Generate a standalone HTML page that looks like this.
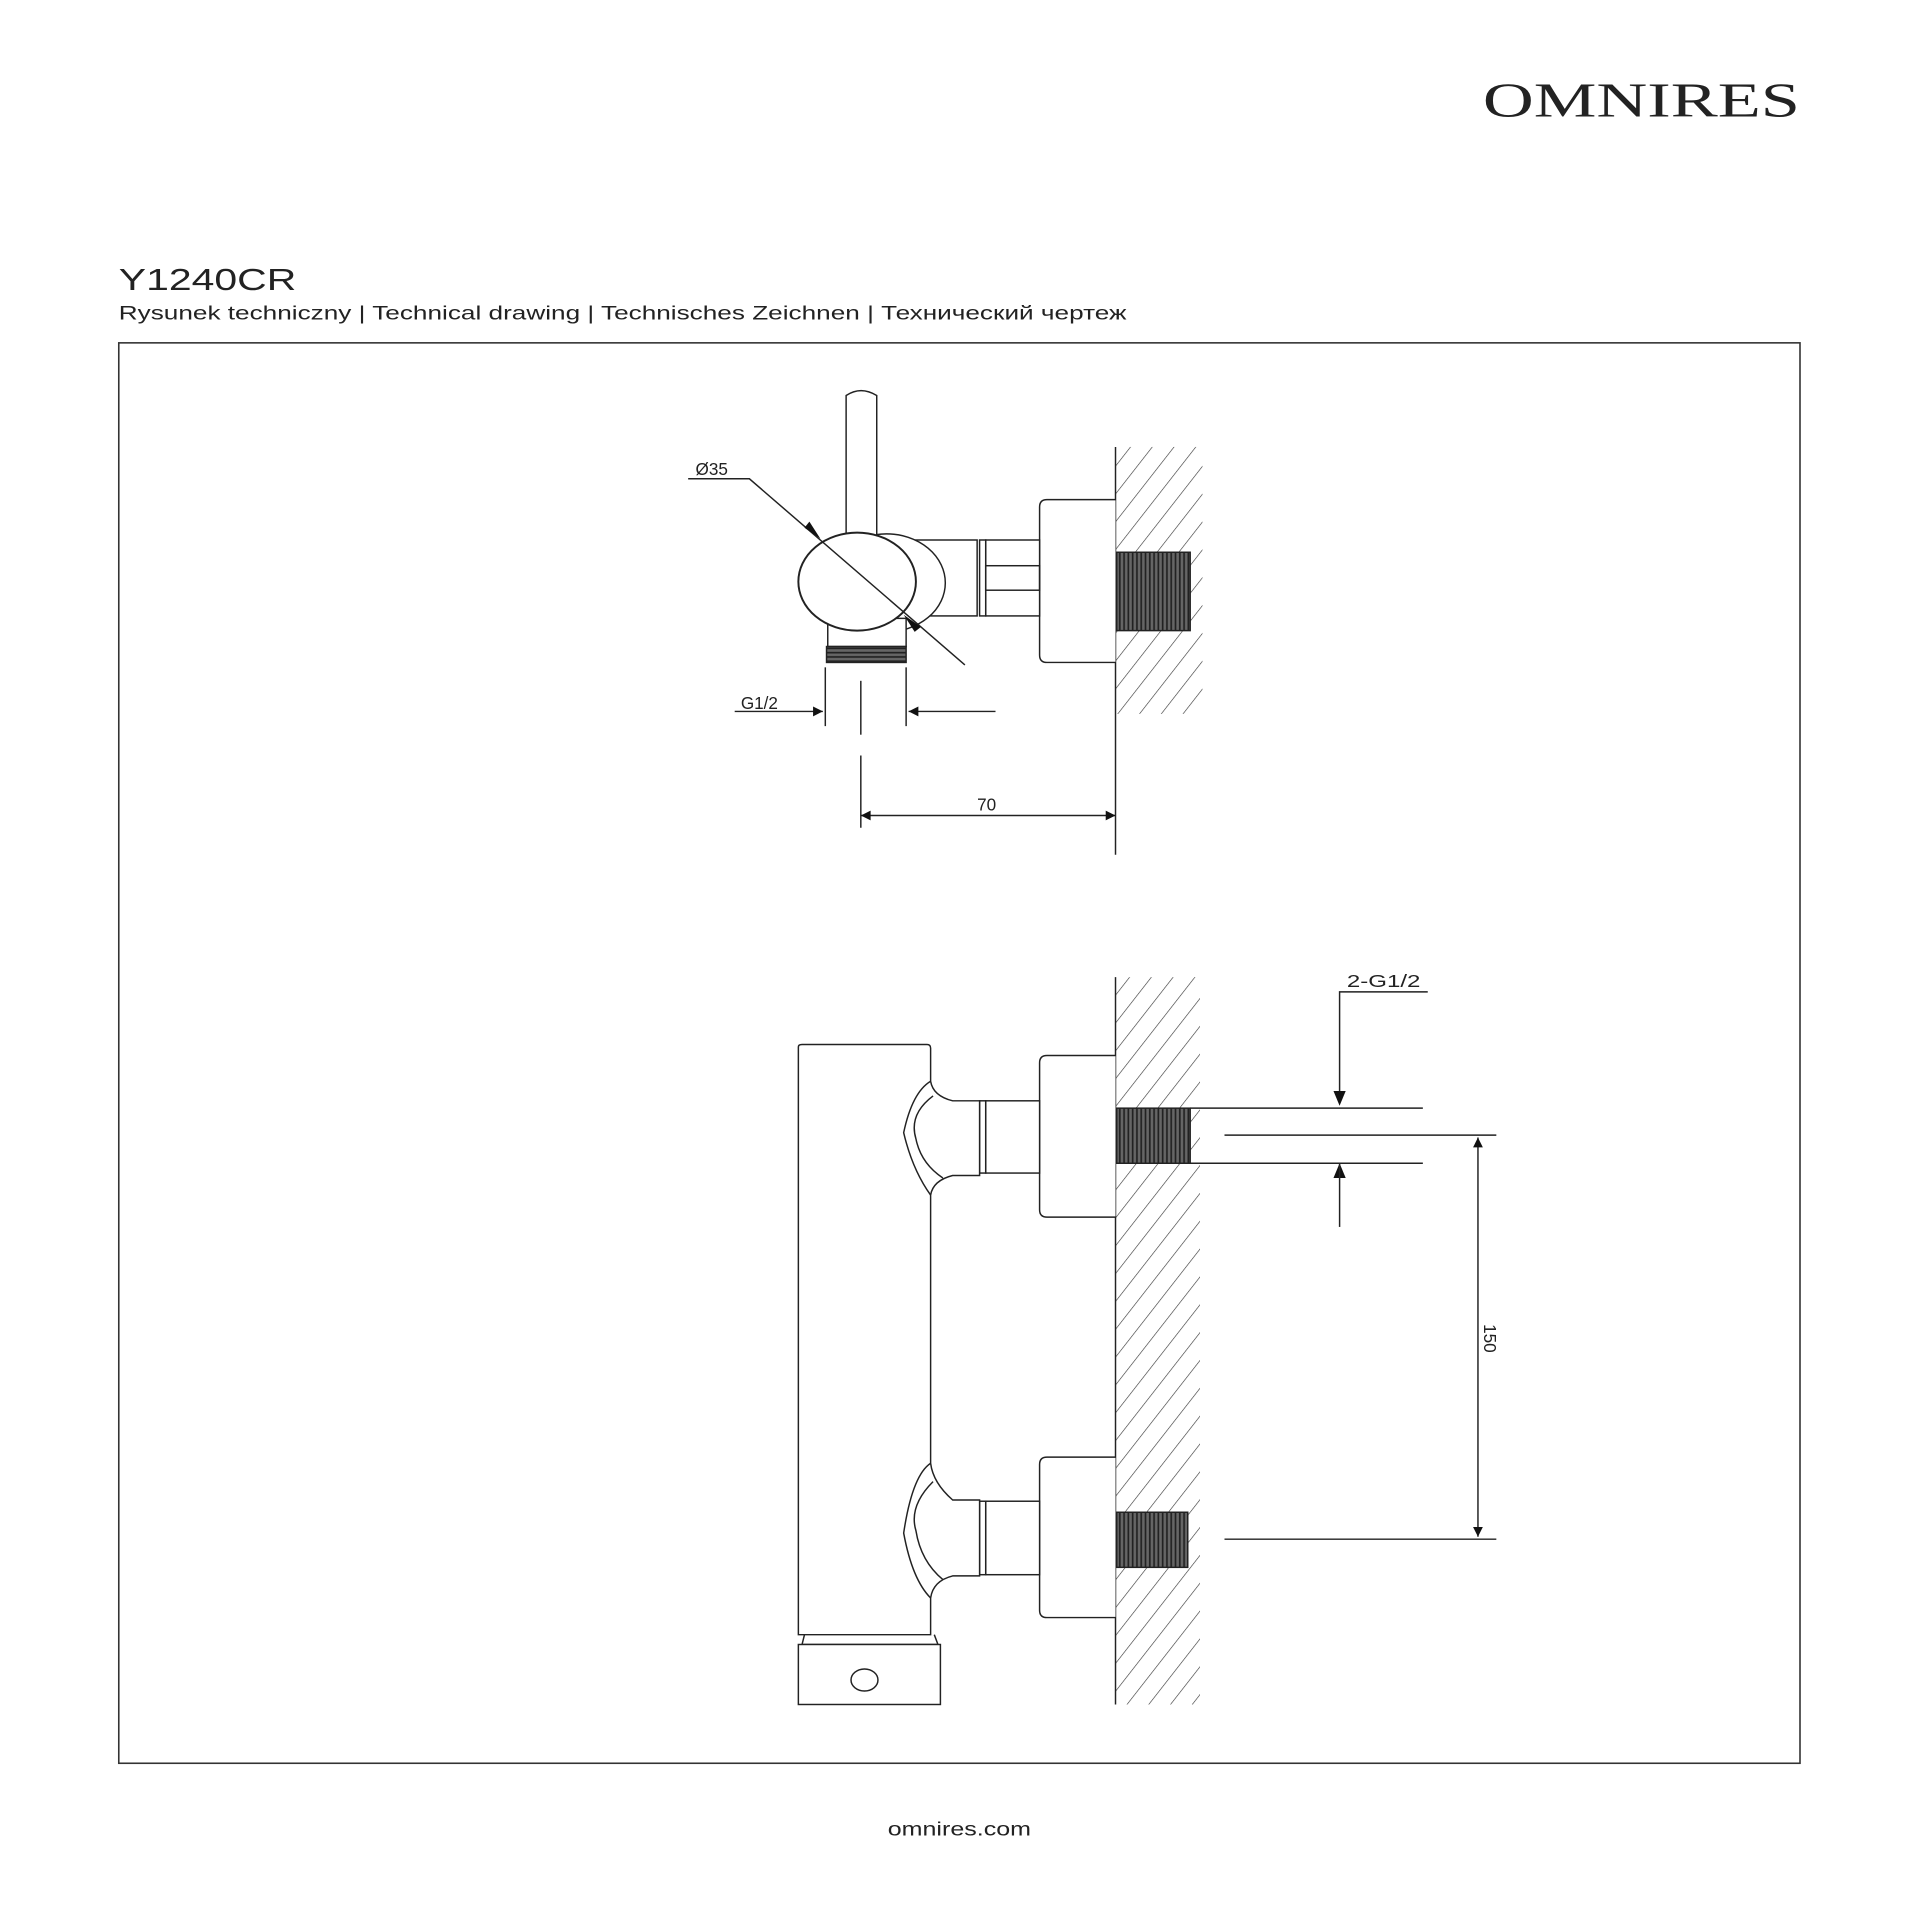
<!DOCTYPE html>
<html><head><meta charset="utf-8"><style>
html,body{margin:0;padding:0;background:#fff;}
svg{display:block;}
</style></head><body>
<svg width="1920" height="1920" viewBox="0 0 1568 1568" xmlns="http://www.w3.org/2000/svg">
<defs>
<pattern id="hatch" patternUnits="userSpaceOnUse" width="14" height="14" patternTransform="rotate(38)">
<line x1="0" y1="0" x2="0" y2="14" stroke="#333" stroke-width="1"/>
</pattern>
<pattern id="thr" patternUnits="userSpaceOnUse" width="3.5" height="10">
<rect width="3.5" height="10" fill="#666"/><line x1="1" y1="0" x2="1" y2="10" stroke="#222" stroke-width="1.4"/>
</pattern>
<pattern id="thrh" patternUnits="userSpaceOnUse" width="10" height="3.5">
<rect width="10" height="3.5" fill="#666"/><line x1="0" y1="1" x2="10" y2="1" stroke="#222" stroke-width="1.4"/>
</pattern>
<marker id="ar" viewBox="0 0 10 10" refX="10" refY="5" markerWidth="14" markerHeight="8" markerUnits="userSpaceOnUse" orient="auto-start-reverse">
<path d="M0,0 L10,5 L0,10 z" fill="#111"/>
</marker>
</defs>
<rect width="1568" height="1568" fill="#fff"/>
<text x="1211" y="95" font-family="Liberation Serif, serif" font-size="40" textLength="259" lengthAdjust="spacingAndGlyphs" fill="#222">OMNIRES</text>
<text x="97" y="237" font-family="Liberation Sans, sans-serif" font-size="25" textLength="145" lengthAdjust="spacingAndGlyphs" fill="#222">Y1240CR</text>
<text x="97" y="261" font-family="Liberation Sans, sans-serif" font-size="15.5" textLength="823" lengthAdjust="spacingAndGlyphs" fill="#222">Rysunek techniczny | Technical drawing | Technisches Zeichnen | Технический чертеж</text>
<rect x="97" y="280" width="1373" height="1160" fill="none" stroke="#333" stroke-width="1.3"/>
<text x="725" y="1499" font-family="Liberation Sans, sans-serif" font-size="15.5" textLength="117" lengthAdjust="spacingAndGlyphs" fill="#222">omnires.com</text>

<g fill="none" stroke="#222" stroke-width="1.2">
<rect x="911" y="365" width="71" height="218" fill="url(#hatch)" stroke="none"/>
<line x1="911" y1="365" x2="911" y2="698"/>
<rect x="912" y="451" width="60" height="64" fill="url(#thr)" stroke="#222"/>
<path d="M911,408 H855 Q849,408 849,414 V535 Q849,541 855,541 H911" fill="#fff"/>
<rect x="805" y="441" width="44" height="62" fill="#fff"/>
<rect x="805" y="462" width="44" height="20"/>
<rect x="800" y="441" width="5" height="62"/>
<rect x="740" y="441" width="58" height="62" fill="#fff"/>
<ellipse cx="724" cy="476" rx="48" ry="40" fill="#fff"/>
<rect x="676" y="505" width="64" height="23" fill="#fff"/>
<rect x="675" y="528" width="65" height="13" fill="url(#thrh)"/>
<path d="M691,440 V323 Q703,315 716,323 V440" fill="#fff"/>
<ellipse cx="700" cy="475" rx="48" ry="40" fill="#fff" stroke-width="1.6"/>
<polyline points="562,391 612,391 788,543"/>
<path d="M657,431 L670,440 L661,426 z" fill="#111" stroke="none"/>
<path d="M752,512 L738,502 L747,516 z" fill="#111" stroke="none"/>
<line x1="674" y1="545" x2="674" y2="593"/>
<line x1="740" y1="545" x2="740" y2="593"/>
<line x1="600" y1="581" x2="672" y2="581" marker-end="url(#ar)"/>
<line x1="813" y1="581" x2="742" y2="581" marker-end="url(#ar)"/>
<line x1="703" y1="556" x2="703" y2="600"/>
<line x1="703" y1="617" x2="703" y2="676"/>
<line x1="703" y1="666" x2="911" y2="666" marker-start="url(#ar)" marker-end="url(#ar)"/>

<rect x="911" y="798" width="69" height="594" fill="url(#hatch)" stroke="none"/>
<line x1="911" y1="798" x2="911" y2="1392"/>
<rect x="912" y="905" width="60" height="45" fill="url(#thr)"/>
<rect x="912" y="1235" width="58" height="45" fill="url(#thr)"/>
<path d="M911,862 H855 Q849,862 849,868 V988 Q849,994 855,994 H911" fill="#fff"/>
<path d="M911,1190 H855 Q849,1190 849,1196 V1315 Q849,1321 855,1321 H911" fill="#fff"/>
<rect x="805" y="899" width="44" height="59" fill="#fff"/>
<rect x="805" y="1226" width="44" height="60" fill="#fff"/>
<rect x="800" y="899" width="5" height="59"/>
<rect x="800" y="1226" width="5" height="60"/>
<path d="M652,855 Q652,853 655,853 H757 Q760,853 760,856 V883 Q762,895 778,899 H800 V960 H778 Q762,964 760,976 V1195 Q762,1211 778,1225 H800 V1287 H778 Q762,1291 760,1305 V1335 H652 Z" fill="#fff"/>
<path d="M760,883 Q745,892 738,925 Q745,955 760,976"/>
<path d="M760,1195 Q745,1205 738,1252 Q745,1290 760,1305"/>
<path d="M762,895 Q742,910 748,930 Q752,950 770,962"/>
<path d="M762,1210 Q742,1230 748,1250 Q752,1275 770,1290"/>
<path d="M657,1335 L655,1343 H766 L763,1335"/>
<rect x="652" y="1343" width="116" height="49" fill="#fff"/>
<ellipse cx="706" cy="1372" rx="11" ry="9"/>
<polyline points="1166,810 1094,810 1094,901" />
<path d="M1089,891 L1094,903 L1099,891 z" fill="#111" stroke="none"/>
<path d="M1089,962 L1094,950 L1099,962 z" fill="#111" stroke="none"/>
<line x1="1094" y1="950" x2="1094" y2="1002"/>
<line x1="972" y1="905" x2="1162" y2="905"/>
<line x1="1000" y1="927" x2="1222" y2="927"/>
<line x1="972" y1="950" x2="1162" y2="950"/>
<line x1="1000" y1="1257" x2="1222" y2="1257"/>
<line x1="1207" y1="929" x2="1207" y2="1255" marker-start="url(#ar)" marker-end="url(#ar)"/>
</g>
<g font-family="Liberation Sans, sans-serif" font-size="14" fill="#222">
<text x="568" y="388">Ø35</text>
<text x="605" y="579">G1/2</text>
<text x="798" y="662">70</text>
<text x="1100" y="806" textLength="60" lengthAdjust="spacingAndGlyphs">2-G1/2</text>
<text x="1212" y="1093" transform="rotate(90 1212 1093)" text-anchor="middle">150</text>
</g>
</svg>
</body></html>
